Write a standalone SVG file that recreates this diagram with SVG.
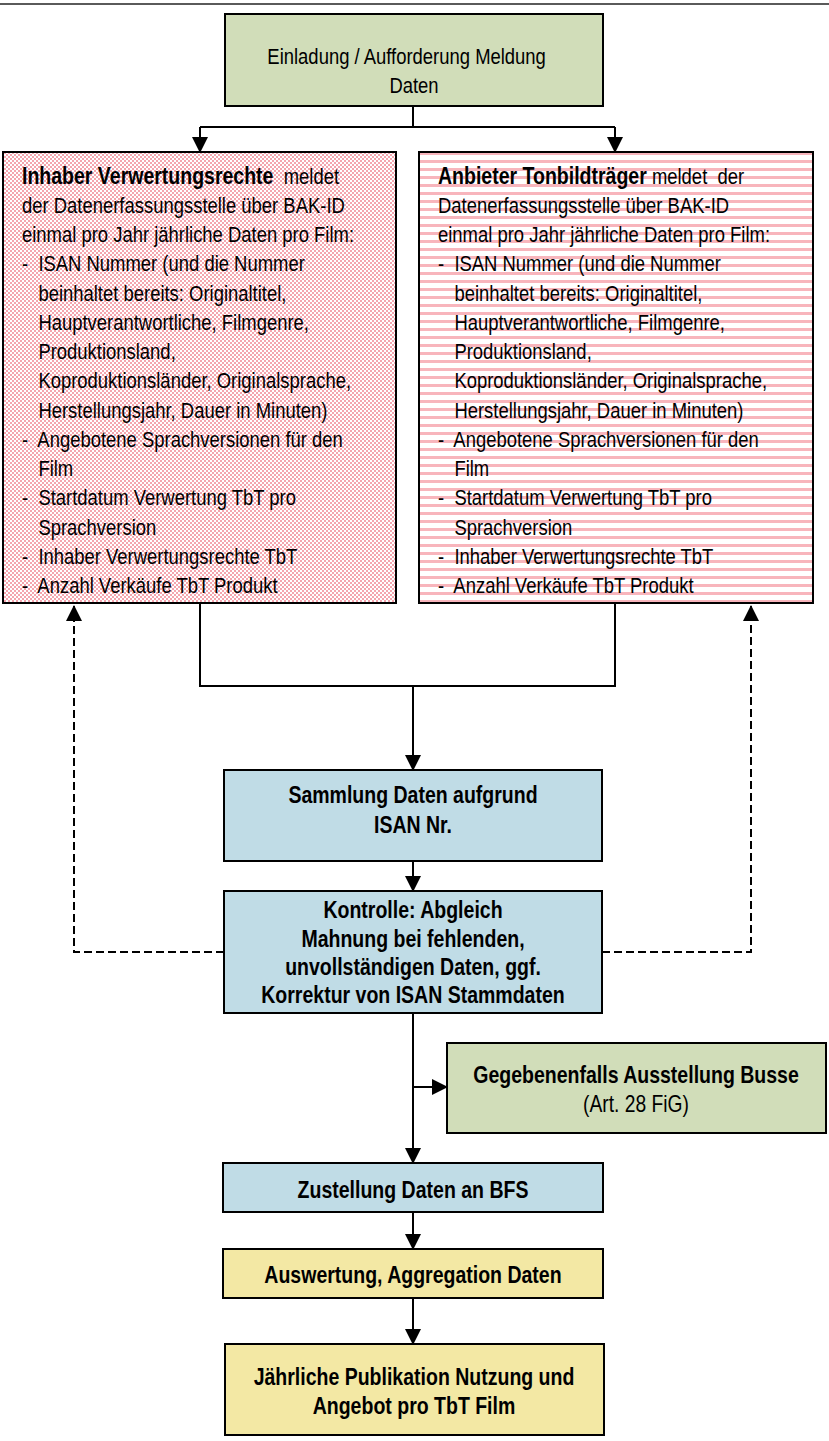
<svg xmlns="http://www.w3.org/2000/svg" width="829" height="1441" viewBox="0 0 829 1441">
<defs>
<style>
.box{stroke:#000;stroke-width:2}
.green{fill:#d1ddb9}
.blue{fill:#c0dce6}
.yellow{fill:#f3e8a4}
.t{font-family:"Liberation Sans",Arial,sans-serif;font-size:22.5px;fill:#000}
.b{font-weight:bold;font-size:23.8px}
.c{text-anchor:middle}
.ln{fill:none;stroke:#000;stroke-width:2}
.dash{fill:none;stroke:#000;stroke-width:2;stroke-dasharray:8 4}
</style>
<pattern id="checker" width="4" height="4" patternUnits="userSpaceOnUse">
<rect width="4" height="4" fill="#ffffff"/>
<rect width="2" height="2" fill="#f4a5ae"/>
<rect x="2" y="2" width="2" height="2" fill="#f4a5ae"/>
</pattern>
<pattern id="stripes" width="8" height="8" patternUnits="userSpaceOnUse">
<rect width="8" height="8" fill="#ffffff"/>
<rect width="8" height="3" fill="#f8b5bc"/>
</pattern>
<marker id="ah" markerUnits="userSpaceOnUse" viewBox="0 0 16 16" markerWidth="16" markerHeight="16" refX="15" refY="8" orient="auto">
<path d="M0,0 L16,8 L0,16 z" fill="#000"/>
</marker>
</defs>
<rect width="829" height="1441" fill="#ffffff"/>
<line x1="0" y1="4" x2="829" y2="4" stroke="#5a5a5a" stroke-width="2"/>

<g id="connectors">
<path class="ln" d="M413,106 V127 M200,127 H615"/>
<path class="ln" d="M200,127 V152" marker-end="url(#ah)"/>
<path class="ln" d="M615,127 V152" marker-end="url(#ah)"/>
<path class="ln" d="M200,603 V686 H615 V603"/>
<path class="ln" d="M413,686 V770" marker-end="url(#ah)"/>
<path class="ln" d="M413,861 V891" marker-end="url(#ah)"/>
<path class="ln" d="M413,1013 V1163" marker-end="url(#ah)"/>
<path class="ln" d="M413,1087 H447" marker-end="url(#ah)"/>
<path class="ln" d="M413,1212 V1249" marker-end="url(#ah)"/>
<path class="ln" d="M413,1298 V1344" marker-end="url(#ah)"/>
<path class="dash" d="M224,952 H74 V606" marker-end="url(#ah)"/>
<path class="dash" d="M602,952 H751 V606" marker-end="url(#ah)"/>
</g>

<g id="einladung">
<rect class="box green" x="225" y="14" width="378" height="92"/>
<g transform="translate(414,0) scale(0.82,1)">
<text class="t c" x="-9" y="64">Einladung / Aufforderung Meldung</text>
<text class="t c" x="0" y="93">Daten</text>
</g>
</g>

<g id="inhaber">
<rect class="box" x="3" y="152" width="393" height="451" fill="url(#checker)"/>
<g transform="translate(22,0) scale(0.82,1)">
<text class="t" x="0" y="184" xml:space="preserve"><tspan class="b">Inhaber Verwertungsrechte</tspan>  meldet</text>
<text class="t" x="0" y="213">der Datenerfassungsstelle über BAK-ID</text>
<text class="t" x="0" y="242">einmal pro Jahr jährliche Daten pro Film:</text>
<text class="t" x="0" y="271" xml:space="preserve">-  ISAN Nummer (und die Nummer</text>
<text class="t" x="20" y="301">beinhaltet bereits: Originaltitel,</text>
<text class="t" x="20" y="330">Hauptverantwortliche, Filmgenre,</text>
<text class="t" x="20" y="359">Produktionsland,</text>
<text class="t" x="20" y="388">Koproduktionsländer, Originalsprache,</text>
<text class="t" x="20" y="418">Herstellungsjahr, Dauer in Minuten)</text>
<text class="t" x="0" y="447" xml:space="preserve">-  Angebotene Sprachversionen für den</text>
<text class="t" x="20" y="476">Film</text>
<text class="t" x="0" y="505" xml:space="preserve">-  Startdatum Verwertung TbT pro</text>
<text class="t" x="20" y="535">Sprachversion</text>
<text class="t" x="0" y="564" xml:space="preserve">-  Inhaber Verwertungsrechte TbT</text>
<text class="t" x="0" y="593" xml:space="preserve">-  Anzahl Verkäufe TbT Produkt</text>
</g>
</g>

<g id="anbieter">
<rect class="box" x="419" y="152" width="394" height="451" fill="url(#stripes)"/>
<g transform="translate(438,0) scale(0.82,1)">
<text class="t" x="0" y="184" xml:space="preserve"><tspan class="b">Anbieter Tonbildträger</tspan> meldet  der</text>
<text class="t" x="0" y="213">Datenerfassungsstelle über BAK-ID</text>
<text class="t" x="0" y="242">einmal pro Jahr jährliche Daten pro Film:</text>
<text class="t" x="0" y="271" xml:space="preserve">-  ISAN Nummer (und die Nummer</text>
<text class="t" x="20" y="301">beinhaltet bereits: Originaltitel,</text>
<text class="t" x="20" y="330">Hauptverantwortliche, Filmgenre,</text>
<text class="t" x="20" y="359">Produktionsland,</text>
<text class="t" x="20" y="388">Koproduktionsländer, Originalsprache,</text>
<text class="t" x="20" y="418">Herstellungsjahr, Dauer in Minuten)</text>
<text class="t" x="0" y="447" xml:space="preserve">-  Angebotene Sprachversionen für den</text>
<text class="t" x="20" y="476">Film</text>
<text class="t" x="0" y="505" xml:space="preserve">-  Startdatum Verwertung TbT pro</text>
<text class="t" x="20" y="535">Sprachversion</text>
<text class="t" x="0" y="564" xml:space="preserve">-  Inhaber Verwertungsrechte TbT</text>
<text class="t" x="0" y="593" xml:space="preserve">-  Anzahl Verkäufe TbT Produkt</text>
</g>
</g>

<g id="sammlung">
<rect class="box blue" x="224" y="770" width="378" height="91"/>
<g transform="translate(413,0) scale(0.82,1)">
<text class="t b c" x="0" y="803">Sammlung Daten aufgrund</text>
<text class="t b c" x="0" y="833">ISAN Nr.</text>
</g>
</g>

<g id="kontrolle">
<rect class="box blue" x="224" y="891" width="378" height="122"/>
<g transform="translate(413,0) scale(0.82,1)">
<text class="t b c" x="0" y="918">Kontrolle: Abgleich</text>
<text class="t b c" x="0" y="947">Mahnung bei fehlenden,</text>
<text class="t b c" x="0" y="975">unvollständigen Daten, ggf.</text>
<text class="t b c" x="0" y="1003">Korrektur von ISAN Stammdaten</text>
</g>
</g>

<g id="busse">
<rect class="box green" x="447" y="1043" width="379" height="90"/>
<g transform="translate(636,0) scale(0.82,1)">
<text class="t b c" x="0" y="1083">Gegebenenfalls Ausstellung Busse</text>
<text class="t c" x="0" y="1112" style="font-size:23.5px">(Art. 28 FiG)</text>
</g>
</g>

<g id="zustellung">
<rect class="box blue" x="223" y="1163" width="380" height="49"/>
<g transform="translate(413,0) scale(0.82,1)">
<text class="t b c" x="0" y="1198">Zustellung Daten an BFS</text>
</g>
</g>

<g id="auswertung">
<rect class="box yellow" x="223" y="1249" width="380" height="49"/>
<g transform="translate(413,0) scale(0.82,1)">
<text class="t b c" x="0" y="1283">Auswertung, Aggregation Daten</text>
</g>
</g>

<g id="publikation">
<rect class="box yellow" x="225" y="1344" width="379" height="91"/>
<g transform="translate(414,0) scale(0.82,1)">
<text class="t b c" x="0" y="1385">Jährliche Publikation Nutzung und</text>
<text class="t b c" x="0" y="1414">Angebot pro TbT Film</text>
</g>
</g>
</svg>
